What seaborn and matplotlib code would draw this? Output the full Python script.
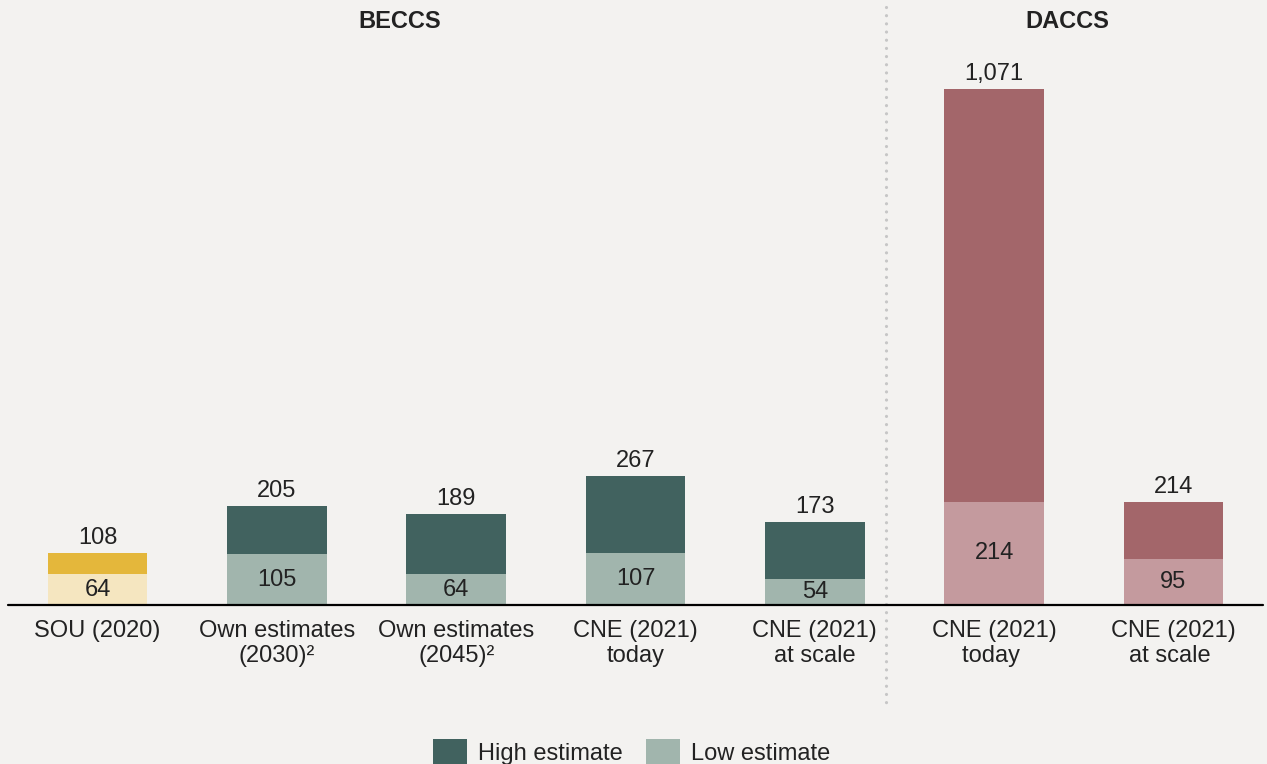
import matplotlib
matplotlib.use("Agg")
import matplotlib.pyplot as plt
import matplotlib.transforms as mtransforms
from matplotlib.patches import Rectangle
import seaborn as sns
import pandas as pd

# ---- data ----
categories = ["SOU (2020)", "Own estimates\n(2030)\u00b2", "Own estimates\n(2045)\u00b2",
              "CNE (2021)\ntoday", "CNE (2021)\nat scale", "CNE (2021)\ntoday ", "CNE (2021)\nat scale "]
high_values = [108, 205, 189, 267, 173, 1071, 214]
low_values = [64, 105, 64, 107, 54, 214, 95]
groups = ["BECCS", "DACCS"]
legend_labels = ["High estimate", "Low estimate"]

# ---- style ----
BG = "#F3F2F0"
TXT = "#222222"
FS = 17
high_colors = ["#E4B73B", "#41625F", "#41625F", "#41625F", "#41625F", "#A3666A", "#A3666A"]
low_colors = ["#F5E6C0", "#A1B5AD", "#A1B5AD", "#A1B5AD", "#A1B5AD", "#C49A9E", "#C49A9E"]

sns.set_theme(style="white")
plt.rcParams["font.family"] = ["Liberation Sans", "DejaVu Sans"]
plt.rcParams["text.color"] = TXT

W, H = 1267, 764
fig = plt.figure(figsize=(W / 100, H / 100), dpi=100, facecolor=BG)
ax = fig.add_axes([8 / W, (H - 605) / H, 1255 / W, (605 - 7) / H])
ax.set_facecolor(BG)

df = pd.DataFrame({"cat": categories, "high": high_values, "low": low_values})

sns.barplot(data=df, x="cat", y="high", hue="cat", palette=high_colors,
            width=0.555, legend=False, ax=ax, saturation=1, linewidth=0)
sns.barplot(data=df, x="cat", y="low", hue="cat", palette=low_colors,
            width=0.555, legend=False, ax=ax, saturation=1, linewidth=0)

ax.set_xlim(-0.5, 6.5)
ax.set_ylim(0, 1241)
ax.set_xlabel("")
ax.set_ylabel("")
ax.set_yticks([])
ax.tick_params(axis="x", length=0, pad=11, labelsize=FS, labelcolor=TXT)
for lbl in ax.get_xticklabels():
    lbl.set_linespacing(1.18)
for s in ax.spines.values():
    s.set_visible(False)
ax.axhline(0, color="black", lw=1.6, zorder=5, clip_on=False)

# value labels
for i, (hv, lv) in enumerate(zip(high_values, low_values)):
    ax.annotate(f"{hv:,}", (i, hv), xytext=(0, 6.5), textcoords="offset points",
                ha="center", va="baseline", fontsize=FS, color=TXT)
    ax.text(i, lv / 2, f"{lv:,}", ha="center", va="center", fontsize=FS, color=TXT)

# group titles and separator
trans = mtransforms.blended_transform_factory(ax.transData, ax.transAxes)
ax.text(1.686, 0.975, groups[0], transform=trans, ha="center", va="center",
        fontsize=FS, fontweight="bold", color=TXT)
ax.text(5.406, 0.975, groups[1], transform=trans, ha="center", va="center",
        fontsize=FS, fontweight="bold", color=TXT)
ax.plot([4.397, 4.397], [1.0, -0.167], transform=trans, clip_on=False,
        color="#C6C6C6", lw=2.3, linestyle=(0, (0.01, 2.55)), dash_capstyle="round")

# legend (bottom, partly cut like the reference)
for x0, col, lab in [(433, high_colors[1], legend_labels[0]), (646, low_colors[1], legend_labels[1])]:
    fig.patches.append(Rectangle((x0 / W, (H - 773) / H), 34 / W, 34 / H,
                                 transform=fig.transFigure, facecolor=col, edgecolor="none"))
    fig.text((x0 + 45) / W, (H - 760) / H, lab, ha="left", va="baseline", fontsize=FS, color=TXT)

fig.savefig("out.png", dpi=100, facecolor=BG)
